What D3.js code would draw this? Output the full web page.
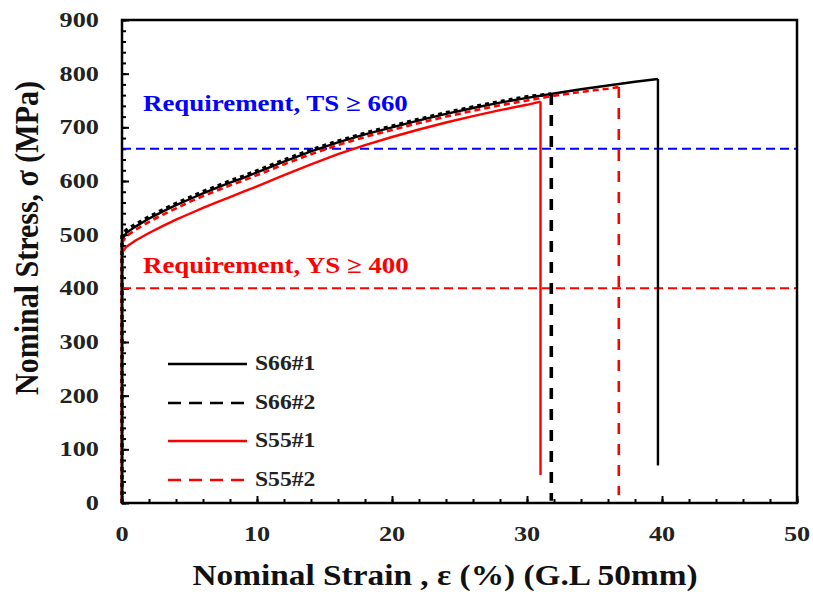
<!DOCTYPE html>
<html>
<head>
<meta charset="utf-8">
<script src="https://cdn.jsdelivr.net/npm/d3@7/dist/d3.min.js"></script>
<style>
  html, body { margin: 0; padding: 0; background: #fff; }
  svg { display: block; }
  text { font-family: "Liberation Serif", "Times New Roman", serif; font-weight: bold; }
</style>
</head>
<body>
<svg id="chart" width="813" height="592"></svg>
<script>
// Tensile test curves: nominal strain (%) vs nominal stress (MPa)
const seriesNames = ["S66#1", "S66#2", "S55#1", "S55#2"];

const s66_1_strain = [0, 0, 0.3, 1, 2, 3, 4, 5, 6, 7, 8, 9, 10, 12, 14, 16, 18, 20, 22, 24, 26, 28, 30, 32, 34, 36, 38, 39.7, 39.7];
const s66_1_stress = [0, 490, 503, 515, 530, 543, 555, 566, 577, 587, 597, 606, 616, 636, 655, 672, 687, 700, 713, 725, 736, 746, 755, 763, 771, 778, 785, 790, 70];

const s66_2_strain = [0, 0, 0.3, 1, 2, 3, 4, 5, 6, 7, 8, 9, 10, 12, 14, 16, 18, 20, 22, 24, 26, 28, 30, 31.8, 31.8];
const s66_2_stress = [0, 497, 508, 519, 533, 546, 558, 569, 580, 590, 600, 609, 619, 639, 658, 674, 689, 702, 715, 727, 738, 748, 757, 762, 4];

const s55_1_strain = [0, 0, 0.3, 1, 2, 3, 4, 5, 6, 7, 8, 9, 10, 12, 14, 16, 18, 20, 22, 24, 26, 28, 30, 31.0, 31.0];
const s55_1_stress = [0, 466, 477, 489, 503, 516, 528, 539, 550, 560, 570, 580, 590, 611, 631, 650, 667, 682, 696, 709, 721, 732, 742, 748, 52];

const s55_2_strain = [0, 0, 0.3, 1, 2, 3, 4, 5, 6, 7, 8, 9, 10, 12, 14, 16, 18, 20, 22, 24, 26, 28, 30, 32, 34, 36, 36.8, 36.8];
const s55_2_stress = [0, 485, 497, 509, 524, 537, 549, 561, 572, 582, 592, 601, 611, 631, 650, 667, 682, 695, 708, 720, 731, 741, 750, 759, 766, 772, 775, 15];

// Minimum requirements
const reqValues = [660, 400];
const reqLabels = ["Requirement, TS \u2265 660", "Requirement, YS \u2265 400"];

const xTicks = [0, 10, 20, 30, 40, 50];
const yTicks = [0, 100, 200, 300, 400, 500, 600, 700, 800, 900];

const svg = d3.select("#chart");
const margin = { left: 122, right: 813 - 797, top: 20, bottom: 592 - 503 };
const W = 813, H = 592;

const x = d3.scaleLinear().domain([0, 50]).range([margin.left, W - margin.right]);
const y = d3.scaleLinear().domain([0, 900]).range([H - margin.bottom, margin.top]);

const styles = [
  { color: "#000", width: 2.4, dash: null, dropDash: null },
  { color: "#000", width: 3.6, dash: "4,4", dropDash: "11,10" },
  { color: "#ff0000", width: 2.4, dash: null, dropDash: null },
  { color: "#ff0000", width: 2.6, dash: "6,4", dropDash: "11,10" }
];

const series = [
  d3.zip(s66_1_strain, s66_1_stress),
  d3.zip(s66_2_strain, s66_2_stress),
  d3.zip(s55_1_strain, s55_1_stress),
  d3.zip(s55_2_strain, s55_2_stress)
];

// stretched bold serif text helper
function label(g, txt, px, py, opts) {
  const sx = opts.sx || 1;
  const t = g.append("g").attr("transform", `translate(${px},${py}) ${opts.rotate ? `rotate(${opts.rotate})` : ""} scale(${sx},${opts.sy || 1})`)
    .append("text")
    .attr("font-size", opts.size)
    .attr("fill", opts.color || "#000")
    .attr("text-anchor", opts.anchor || "start")
    .attr("dominant-baseline", opts.baseline || "auto")
    .text(txt);
  return t;
}

// Axes with inward ticks
const xMinor = d3.range(0, 50.01, 2);
const yMinor = d3.range(0, 900.01, 20);

const axisX = d3.axisBottom(x).tickValues(xMinor).tickSize(-4).tickFormat("");
const axisXMajor = d3.axisBottom(x).tickValues(xTicks).tickSize(-7).tickFormat("");
const axisY = d3.axisLeft(y).tickValues(yMinor).tickSize(-4).tickFormat("");
const axisYMajor = d3.axisLeft(y).tickValues(yTicks).tickSize(-7).tickFormat("");

[axisX, axisXMajor].forEach(a => {
  svg.append("g").attr("transform", `translate(0,${y(0)})`).call(a)
    .call(g => g.select(".domain").remove())
    .selectAll("line").attr("stroke", "#000").attr("stroke-width", 2);
});
[axisY, axisYMajor].forEach(a => {
  svg.append("g").attr("transform", `translate(${x(0)},0)`).call(a)
    .call(g => g.select(".domain").remove())
    .selectAll("line").attr("stroke", "#000").attr("stroke-width", 2);
});

// Requirement lines
const reqColors = ["#0000ff", "#ff0000"];
reqValues.forEach((v, i) => {
  svg.append("line")
    .attr("x1", x(0)).attr("x2", x(50))
    .attr("y1", y(v)).attr("y2", y(v))
    .attr("stroke", reqColors[i]).attr("stroke-width", 2)
    .attr("stroke-dasharray", "9,5");
});

// Curves: loading part plus the final drop at fracture
const line = d3.line().x(d => x(d[0])).y(d => y(d[1]));
series.forEach((pts, i) => {
  const st = styles[i];
  const n = pts.length;
  svg.append("path")
    .attr("d", line(pts.slice(0, n - 1)))
    .attr("fill", "none").attr("stroke", st.color).attr("stroke-width", st.width)
    .attr("stroke-linejoin", "round")
    .attr("stroke-dasharray", st.dash);
  svg.append("path")
    .attr("d", line(pts.slice(n - 2)))
    .attr("fill", "none").attr("stroke", st.color).attr("stroke-width", st.width)
    .attr("stroke-dasharray", st.dropDash);
});

// Plot frame
svg.append("rect")
  .attr("x", x(0)).attr("y", y(900))
  .attr("width", x(50) - x(0)).attr("height", y(0) - y(900))
  .attr("fill", "none").attr("stroke", "#000").attr("stroke-width", 2.5);

// Tick labels
yTicks.forEach(v => label(svg, v, 99, y(v), { size: 21, sx: 1.25, anchor: "end", baseline: "central", color: "#222" }));
xTicks.forEach(v => label(svg, v, x(v), 534, { size: 21, sx: 1.25, anchor: "middle", baseline: "central", color: "#222" }));

// Axis titles
label(svg, "Nominal Strain , \u03b5 (%) (G.L 50mm)", 445, 585, { size: 29, sx: 1.15, anchor: "middle", color: "#111" });
label(svg, "Nominal Stress, \u03c3 (MPa)", 38, 238, { size: 30, rotate: -90, sy: 1.15, anchor: "middle", color: "#111" });

// Requirement labels
label(svg, reqLabels[0], 143, 111, { size: 23, sx: 1.17, color: "#0000ff" });
label(svg, reqLabels[1], 143, 273, { size: 23, sx: 1.17, color: "#ff0000" });

// Legend
const legendY = [364, 403, 441, 480];
seriesNames.forEach((name, i) => {
  const st = styles[i];
  svg.append("line")
    .attr("x1", 168).attr("x2", 247)
    .attr("y1", legendY[i]).attr("y2", legendY[i])
    .attr("stroke", st.color).attr("stroke-width", 2.4)
    .attr("stroke-dasharray", st.dash ? "13,8" : null);
  label(svg, name, 255, legendY[i], { size: 20, sx: 1.18, baseline: "central", color: "#222" });
});
</script>
</body>
</html>
